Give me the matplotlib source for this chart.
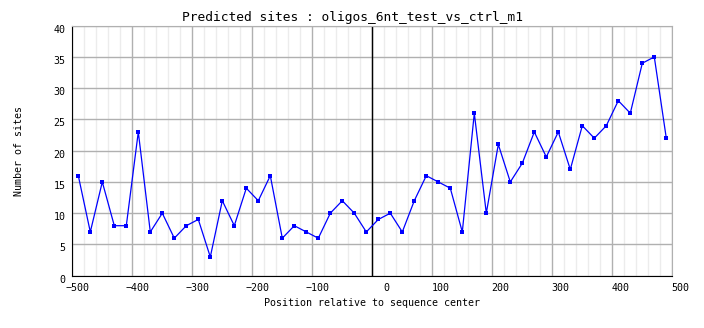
import matplotlib

matplotlib.use("Agg")
import matplotlib.pyplot as plt  # noqa: E402
import matplotlib.transforms as mtransforms  # noqa: E402
import numpy as np  # noqa: E402

# positions relative to sequence center (window centers)
positions = list(range(-490, 500, 20))
sites = [16, 7, 15, 8, 8, 23, 7, 10, 6, 8,
         9, 3, 12, 8, 14, 12, 16, 6, 8, 7,
         6, 10, 12, 10, 7, 9, 10, 7, 12, 16,
         15, 14, 7, 26, 10, 21, 15, 18, 23, 19,
         23, 17, 24, 22, 24, 28, 26, 34, 35, 22]

title = "Predicted sites : oligos_6nt_test_vs_ctrl_m1"
xlabel = "Position relative to sequence center"
ylabel = "Number of sites"

MONO = "DejaVu Sans Mono"


def main() -> None:
    W, H = 704, 328
    fig = plt.figure(figsize=(W / 100, H / 100), dpi=100)
    fig.patch.set_facecolor("white")
    ax = fig.add_axes([72.3 / W, (H - 275.7) / H, 600 / W, 250 / H])

    ax.set_xlim(-500, 500)
    ax.set_ylim(0, 40)
    ax.set_xticks(np.arange(-500, 501, 100))
    ax.set_xticks(np.arange(-480, 500, 20), minor=True)
    ax.set_yticks(np.arange(0, 41, 5))
    ax.grid(True, which="major", color="#b0b0b0", lw=1.0)
    ax.grid(True, which="minor", axis="x", color="#ececec", lw=1.0)
    ax.set_axisbelow(True)
    ax.tick_params(which="both", length=0, labelsize=7.2)
    ax.tick_params(axis="x", pad=5)
    ax.tick_params(axis="y", pad=5)

    # the original x labels end ~17 px right of their grid line,
    # y labels sit ~3 px below theirs
    dx = mtransforms.ScaledTranslation(17 / 100, 0, fig.dpi_scale_trans)
    dy = mtransforms.ScaledTranslation(0, -3 / 100, fig.dpi_scale_trans)
    for lab in ax.get_xticklabels():
        lab.set_family(MONO)
        lab.set_horizontalalignment("right")
        lab.set_transform(lab.get_transform() + dx)
    for lab in ax.get_yticklabels():
        lab.set_family(MONO)
        lab.set_transform(lab.get_transform() + dy)

    for side in ("top", "right"):
        ax.spines[side].set_color("#b0b0b0")
    for side in ("left", "bottom"):
        ax.spines[side].set_color("black")

    ax.axvline(0, color="black", lw=1.0)
    ax.plot(positions, sites, color="#0000ff", lw=0.9, marker="s", ms=2.6,
            markeredgewidth=0)

    fig.text(0.5, 1 - 18 / H, title, family=MONO, fontsize=9.3,
             ha="center", va="center")
    ax.set_xlabel(xlabel, family=MONO, fontsize=7.2, labelpad=4)
    ax.set_ylabel(ylabel, family=MONO, fontsize=7.2, labelpad=21)

    fig.savefig("out.png", dpi=100)
    plt.close(fig)


if __name__ == "__main__":
    main()
